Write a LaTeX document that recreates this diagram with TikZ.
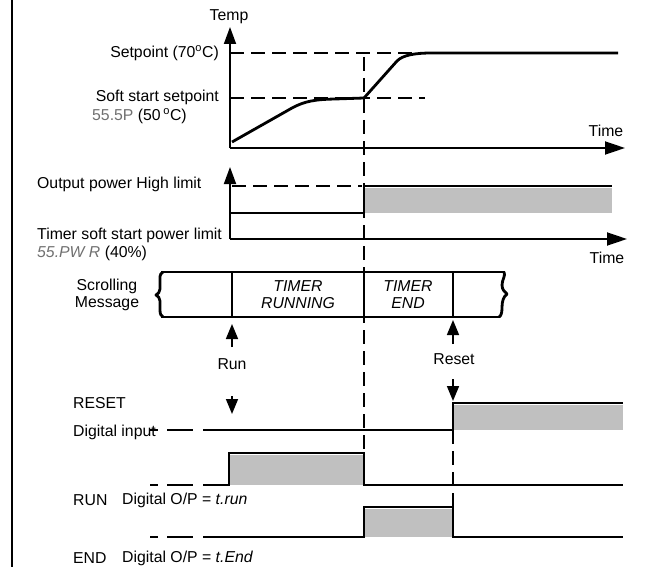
\documentclass[tikz,border=0pt]{standalone}
\usepackage{fontspec}
\setmainfont{Liberation Sans}
\usetikzlibrary{arrows.meta}
\definecolor{fillgray}{HTML}{C0C0C0}
\definecolor{segs}{HTML}{707070}
\begin{document}
\begin{tikzpicture}[x=1pt,y=-1pt,
  lbl/.style={inner sep=0pt, font=\fontsize{15.8}{17}\selectfont},
  axisline/.style={line width=1.8pt},
  wave/.style={line width=2.8pt, line join=miter},
  guide/.style={line width=1.6pt, dash pattern=on 14pt off 7pt},
  ytip/.style={-{Triangle[length=17pt,width=12pt]}},
  xtip/.style={-{Triangle[length=20pt,width=13pt]}},
  evtip/.style={line width=1.6pt,-{Triangle[length=15pt,width=12pt]}},
  grayarea/.style={fill=fillgray}
]
\useasboundingbox (0,0) rectangle (650,567);
\draw[line width=2pt] (12,0) -- (12,567);

% ---- temperature chart
\coordinate (t0) at (230,148);
\coordinate (ttop) at (230,27);
\coordinate (tright) at (625,148);
\draw[guide] (364,57) -- (364,453);
\draw[guide] (453,430) -- (453,507);
\draw[axisline,ytip] (t0) -- (ttop);
\draw[axisline,xtip] (t0) -- (tright);
\node[lbl] (temp) at (229,17) {Temp};
\node[lbl] (time1) at (606,131) {Time};
\draw[guide] (230,53) -- (432,53);
\draw[guide] (230,98) -- (425,98);
\node[lbl,anchor=east] (sp) at (219,53) {Setpoint (70\textsuperscript{o}C)};
\node[lbl,anchor=east] (ssp) at (219,97) {Soft start setpoint};
\node[lbl,anchor=west] (ssv) at (92,116) {\textcolor{segs}{55.5P} (50\,\textsuperscript{o}C)};
\draw[wave, line join=round] (232,142) -- (292,108) .. controls (305,101) and (315,99.5) .. (335,99) -- (364,98) -- (397,61) .. controls (403,55) and (415,53) .. (432,53) -- (618,53);

% ---- power chart
\coordinate (p0) at (230,239);
\coordinate (ptop) at (230,167);
\coordinate (pright) at (627,239);
\draw[axisline,ytip] (p0) -- (ptop);
\draw[axisline,xtip] (p0) -- (pright);
\draw[guide] (232,186) -- (362,186);
\fill[grayarea] (365,188) rectangle (612,213);
\draw[wave] (230,213) -- (364,213) -- (364,186) -- (612,186);
\node[lbl,anchor=west] (hl) at (37,184) {Output power High limit};
\node[lbl,anchor=west] (sl) at (37,235) {Timer soft start power limit};
\node[lbl,anchor=west] (slv) at (37,253) {\textcolor{segs}{\itshape 55.PW R} (40\%)};
\node[lbl] (time2) at (607,258) {Time};

% ---- scrolling message
\draw[wave] (161,272) -- (505,272);
\draw[wave] (161,317) -- (500,317);
\draw[wave, line join=round] (163,272) .. controls (159,274) and (160,278) .. (160,284) -- (160,289) .. controls (160,292) and (158,294) .. (156,295) .. controls (158,296) and (160,298) .. (160,301) -- (160,310) .. controls (160,314) and (161,316) .. (163,317);
\draw[wave, line join=round] (504,272) .. controls (506,275) and (502,280) .. (502,285) .. controls (502,290) and (505,292) .. (507,294) .. controls (503,297) and (502,302) .. (502,308) .. controls (502,313) and (501,316) .. (499,317);
\draw[wave] (232,272) -- (232,317);
\draw[wave] (364,272) -- (364,317);
\draw[wave] (453,272) -- (453,317);
\node[lbl,align=center] (scr) at (107,295) {Scrolling\\Message};
\node[lbl,align=center,font=\fontsize{15.8}{17}\selectfont\itshape] (trun) at (298,295) {TIMER\\RUNNING};
\node[lbl,align=center,font=\fontsize{15.8}{17}\selectfont\itshape] (tend) at (408,295) {TIMER\\END};

% ---- events
\node[lbl] (run) at (232,364) {Run};
\node[lbl] (reset) at (454,359) {Reset};
\draw[evtip] (232,347) -- (232,324);
\draw[evtip] (232,396) -- (232,414);
\draw[evtip] (453,344) -- (453,320);
\draw[evtip] (453,379) -- (453,401);

% ---- digital lines
\foreach \yy in {430,485,537} {
  \draw[wave] (150,\yy) -- (158,\yy) (167,\yy) -- (193,\yy);
}
\fill[grayarea] (454,405) rectangle (623,430);
\draw[wave] (203,430) -- (453,430) -- (453,403) -- (623,403);
\fill[grayarea] (230,455) rectangle (363,485);
\draw[wave] (203,485) -- (229,485) -- (229,453) -- (364,453) -- (364,485) -- (623,485);
\fill[grayarea] (365,509) rectangle (452,537);
\draw[wave] (203,537) -- (364,537) -- (364,507) -- (453,507) -- (453,537) -- (623,537);

\node[lbl,anchor=west] (rst) at (73,403) {RESET};
\node[lbl,anchor=west] (din) at (73,432) {Digital input};
\node[lbl,anchor=west] (runl) at (73,500) {RUN};
\node[lbl,anchor=west] (runo) at (122,500) {Digital O/P = {\itshape t.run}};
\node[lbl,anchor=west] (endl) at (73,558) {END};
\node[lbl,anchor=west] (endo) at (122,558) {Digital O/P = {\itshape t.End}};
\end{tikzpicture}
\end{document}
